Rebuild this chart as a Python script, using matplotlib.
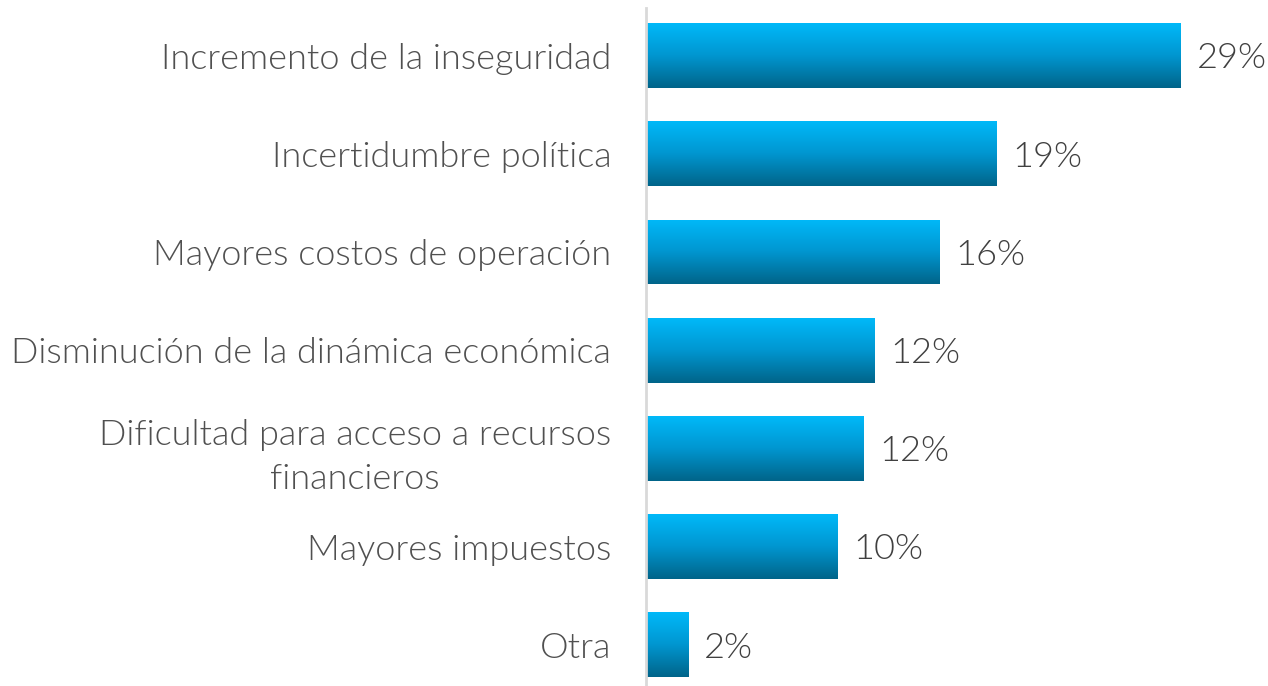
import numpy as np
import matplotlib.pyplot as plt
from matplotlib.colors import LinearSegmentedColormap

categories = [
    "Incremento de la inseguridad",
    "Incertidumbre política",
    "Mayores costos de operación",
    "Disminución de la dinámica económica",
    "Dificultad para acceso a recursos\nfinancieros",
    "Mayores impuestos",
    "Otra",
]
values = [29.0, 19.0, 15.9, 12.4, 11.8, 10.4, 2.3]
labels = ["29%", "19%", "16%", "12%", "12%", "10%", "2%"]

plt.rcParams['font.family'] = ['Lato', 'DejaVu Sans']

fig = plt.figure(figsize=(12.68, 6.86), dpi=100)
ax = fig.add_axes([646 / 1268, 0.0, 614 / 1268, 678 / 686])

# vertical gradient: light cyan on top, dark blue at bottom
cmap = LinearSegmentedColormap.from_list("bar", ["#00b9f9", "#0096d0", "#006489"])
grad = np.linspace(0, 1, 256).reshape(-1, 1)

bar_h = 0.66
pos = np.arange(len(categories))
bars = ax.barh(pos, values, height=bar_h, color="none", edgecolor="none")
for b in bars:
    x0, y0 = b.get_x(), b.get_y()
    w, h = b.get_width(), b.get_height()
    im = ax.imshow(grad, cmap=cmap, aspect="auto",
                   extent=[x0, x0 + w, y0 + h, y0], zorder=2)
    im.set_clip_path(b)

for p, v, lab in zip(pos, values, labels):
    ax.text(v + 0.85, p + 0.03, lab, va="center", ha="left",
            fontsize=26, fontweight=300, color="#404040")

ax.set_xlim(0, 33.3)
ax.set_ylim(6 + 0.42, -0.484)
ax.set_yticks(pos)
ax.set_yticklabels(categories, fontsize=26, fontweight=300,
                   color="#505050", linespacing=1.45)
for t in ax.get_yticklabels():
    t.set_multialignment("center")
ax.tick_params(axis="y", length=0, pad=25)
ax.set_xticks([])
for s in ["top", "right", "bottom"]:
    ax.spines[s].set_visible(False)
ax.spines["left"].set_color("#d9d9d9")
ax.spines["left"].set_linewidth(2)

fig.savefig("out.png", dpi=100)
